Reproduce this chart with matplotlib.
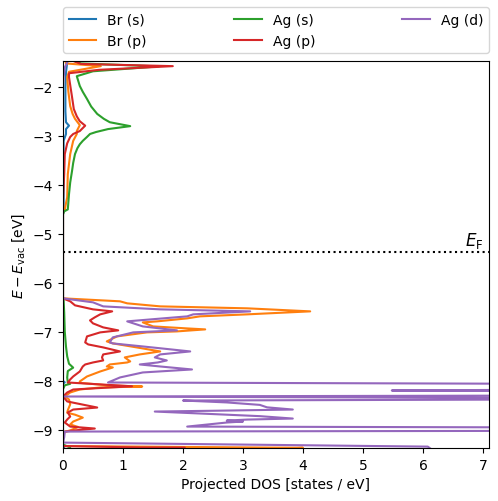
import matplotlib
matplotlib.use('Agg')
import matplotlib.pyplot as plt
import matplotlib.transforms as mtransforms

# (energy [eV], projected DOS) pairs
br_s = [(-1.40, 0.07), (-1.50, 0.07), (-1.70, 0.05), (-2.00, 0.04), (-2.50, 0.04),
        (-2.72, 0.05), (-2.79, 0.10), (-2.86, 0.05), (-2.96, 0.05), (-3.10, 0.01),
        (-3.40, 0.01), (-4.50, 0.01), (-4.60, 0.0), (-8.00, 0.0), (-8.03, 0.03),
        (-8.06, 0.0), (-9.30, 0.0), (-9.36, 0.02), (-9.42, 0.0)]

br_p = [(-1.40, 0.03), (-1.52, 0.05), (-1.575, 0.63), (-1.69, 0.10), (-1.80, 0.07),
        (-2.10, 0.09), (-2.39, 0.12), (-2.55, 0.16), (-2.65, 0.20), (-2.78, 0.28),
        (-2.90, 0.23), (-2.96, 0.23), (-3.10, 0.17), (-3.37, 0.12), (-3.78, 0.08),
        (-4.25, 0.07), (-4.50, 0.03), (-4.56, 0.0),
        (-6.30, 0.0), (-6.315, 0.0), (-6.376, 0.95), (-6.417, 1.07), (-6.479, 1.62),
        (-6.519, 3.07), (-6.581, 4.12), (-6.642, 3.07), (-6.683, 2.28), (-6.724, 2.07),
        (-6.785, 1.57), (-6.806, 1.33), (-6.888, 1.50), (-6.929, 2.07), (-6.949, 2.37),
        (-6.990, 1.90), (-7.010, 1.40), (-7.092, 0.90), (-7.194, 0.73), (-7.235, 0.83),
        (-7.317, 1.23), (-7.399, 1.62), (-7.460, 1.28), (-7.521, 1.03), (-7.603, 1.12),
        (-7.624, 1.07), (-7.665, 0.78), (-7.706, 0.73), (-7.726, 0.83), (-7.808, 0.62),
        (-7.910, 0.40), (-8.012, 0.28), (-8.040, 0.28), (-8.094, 0.78), (-8.115, 1.32),
        (-8.135, 0.62), (-8.176, 0.28), (-8.237, 0.12), (-8.319, 0.03), (-8.380, 0.10),
        (-8.480, 0.12), (-8.600, 0.08), (-8.650, 0.07), (-8.690, 0.20), (-8.750, 0.33),
        (-8.830, 0.17), (-8.890, 0.12), (-8.940, 0.25), (-8.970, 0.20), (-9.010, 0.12),
        (-9.040, 0.03), (-9.100, 0.0), (-9.330, 0.0), (-9.362, 3.45), (-9.365, 4.0),
        (-9.420, 3.0)]

ag_s = [(-1.40, 0.05), (-1.52, 0.30), (-1.58, 1.60), (-1.68, 0.50), (-1.78, 0.23),
        (-1.98, 0.28), (-2.10, 0.33), (-2.245, 0.40), (-2.40, 0.47), (-2.55, 0.57),
        (-2.65, 0.68), (-2.72, 0.78), (-2.80, 1.12), (-2.86, 0.75), (-2.92, 0.55),
        (-2.96, 0.45), (-3.02, 0.40), (-3.10, 0.33), (-3.17, 0.28), (-3.25, 0.24),
        (-3.37, 0.20), (-3.55, 0.17), (-3.72, 0.15), (-3.95, 0.12), (-4.19, 0.10),
        (-4.50, 0.08), (-4.54, 0.02),
        (-4.60, 0.0), (-6.30, 0.0), (-6.35, 0.01), (-6.60, 0.02), (-7.00, 0.03),
        (-7.30, 0.05), (-7.50, 0.07), (-7.65, 0.10), (-7.73, 0.17), (-7.80, 0.08),
        (-7.93, 0.07), (-8.03, 0.08), (-8.06, 0.12), (-8.09, 0.03), (-8.17, 0.0),
        (-9.30, 0.0), (-9.36, 0.12), (-9.40, 0.10)]

ag_p = [(-1.40, 0.02), (-1.53, 0.30), (-1.575, 1.83), (-1.65, 0.60), (-1.72, 0.10),
        (-1.80, 0.10), (-2.20, 0.15), (-2.45, 0.18), (-2.60, 0.23), (-2.70, 0.28),
        (-2.79, 0.37), (-2.90, 0.28),
        (-2.96, 0.17), (-3.02, 0.12), (-3.15, 0.07), (-3.37, 0.03), (-3.78, 0.02),
        (-4.30, 0.0),
        (-6.30, 0.0), (-6.315, 0.0), (-6.376, 0.12), (-6.458, 0.20), (-6.54, 0.50),
        (-6.581, 0.82), (-6.642, 0.62), (-6.703, 0.53), (-6.765, 0.45), (-6.826, 0.50),
        (-6.908, 0.67), (-6.969, 0.92), (-7.01, 0.62), (-7.092, 0.40), (-7.215, 0.37),
        (-7.256, 0.42), (-7.317, 0.67), (-7.399, 0.95), (-7.46, 0.67), (-7.521, 0.65),
        (-7.583, 0.67), (-7.624, 0.50), (-7.665, 0.37), (-7.706, 0.33), (-7.808, 0.28),
        (-7.91, 0.17), (-7.971, 0.12), (-8.033, 0.08), (-8.11, 1.15), (-8.176, 0.17),
        (-8.237, 0.07), (-8.32, 0.0), (-8.42, 0.07), (-8.544, 0.57), (-8.585, 0.17),
        (-8.646, 0.08), (-8.728, 0.12), (-8.789, 0.07), (-8.85, 0.03), (-8.933, 0.12),
        (-8.973, 0.53), (-9.014, 0.17), (-9.035, 0.03), (-9.10, 0.0), (-9.33, 0.0),
        (-9.36, 1.30), (-9.362, 2.03), (-9.42, 1.0)]

ag_d = [(-1.40, 0.05), (-1.50, 0.07), (-1.60, 0.03), (-1.80, 0.01), (-2.00, 0.0),
        (-6.30, 0.0), (-6.315, 0.0), (-6.397, 0.50), (-6.479, 0.67), (-6.54, 1.62),
        (-6.581, 3.12), (-6.642, 2.17), (-6.683, 2.07), (-6.785, 1.07), (-6.888, 1.33),
        (-6.969, 1.90), (-7.01, 1.17), (-7.112, 0.83), (-7.215, 0.78), (-7.235, 0.83),
        (-7.297, 1.33), (-7.399, 2.12), (-7.46, 1.62), (-7.521, 1.53), (-7.583, 1.73),
        (-7.624, 1.58), (-7.665, 1.28), (-7.706, 1.62), (-7.767, 2.15), (-7.828, 1.33),
        (-7.93, 0.95), (-8.033, 0.75), (-8.06, 8.0), (-8.18, 8.0), (-8.196, 5.48),
        (-8.21, 8.0), (-8.30, 8.0), (-8.319, 0.03), (-8.35, 8.0), (-8.38, 8.0),
        (-8.401, 2.0), (-8.44, 2.73), (-8.49, 3.28), (-8.54, 3.40), (-8.585, 3.83),
        (-8.61, 2.50), (-8.626, 1.53), (-8.66, 2.17), (-8.72, 3.28), (-8.769, 3.83),
        (-8.79, 3.07), (-8.81, 2.73), (-8.83, 3.00), (-8.85, 2.73), (-8.933, 2.07),
        (-8.95, 8.0), (-9.02, 8.0), (-9.035, 0.03), (-9.15, 0.02), (-9.26, 0.0),
        (-9.342, 6.08), (-9.45, 6.2)]

series = [('Br (s)', br_s), ('Br (p)', br_p), ('Ag (s)', ag_s),
          ('Ag (p)', ag_p), ('Ag (d)', ag_d)]

e_fermi = -5.37


def main():
    fig = plt.figure(figsize=(4.98, 5.02), dpi=100)
    ax = fig.add_axes([0.1265, 0.1056, 0.8554, 0.7709])

    for label, pts in series:
        energy = [p[0] for p in pts]
        dos = [p[1] for p in pts]
        ax.plot(dos, energy, label=label)

    ax.axhline(e_fermi, color='k', linestyle=':')
    trans = mtransforms.blended_transform_factory(ax.transAxes, ax.transData)
    ax.text(0.987, e_fermi + 0.04, r'$E_\mathrm{F}$', transform=trans,
            ha='right', va='bottom', fontsize=12)

    ax.set_xlim(0, 7.1)
    ax.set_ylim(-9.37, -1.47)
    ax.set_xlabel('Projected DOS [states / eV]')
    ax.set_ylabel(r'$E - E_\mathrm{vac}$ [eV]')

    ax.legend(bbox_to_anchor=(0., 1.02, 1., .102), loc='lower left',
              ncol=3, mode='expand', borderaxespad=0.)

    fig.savefig('out.png', dpi=100)


if __name__ == '__main__':
    main()
